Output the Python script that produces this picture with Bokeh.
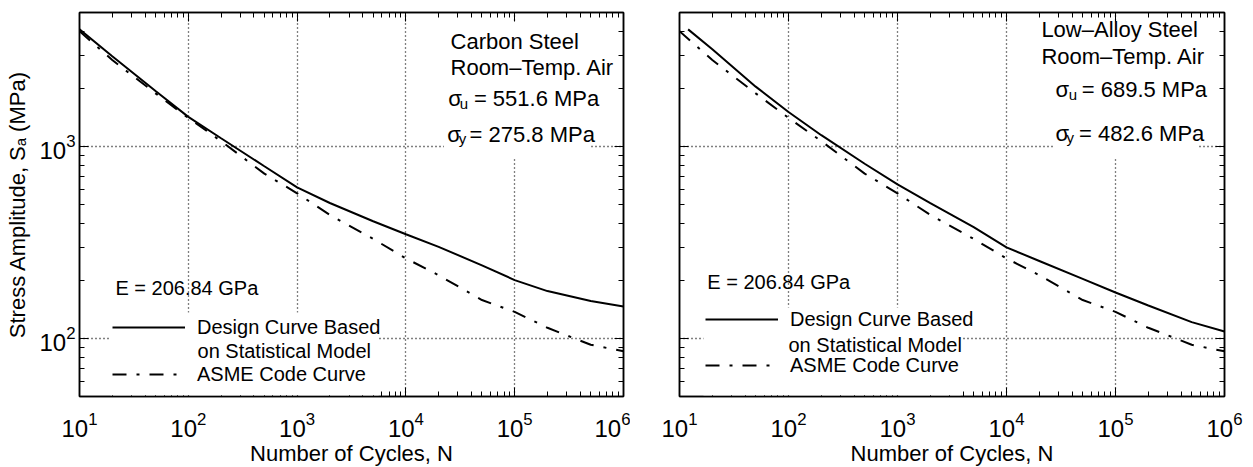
import numpy as np
from bokeh.plotting import figure
from bokeh.models import (Range1d, FixedTicker, LogTickFormatter, LogAxis, Label,
                          Legend, LegendItem, BoxAnnotation)
from bokeh.layouts import row
from bokeh.embed import file_html
from bokeh.resources import INLINE

# ---- data: number of cycles N and stress amplitude S_a (MPa) ----
cycles_cs = [10, 20, 50, 100, 200, 500, 1e3, 2e3, 5e3, 1e4, 2e4, 5e4, 1e5, 2e5, 5e5, 1e6]
design_cs = [4090, 2960, 1950, 1430, 1107, 791, 614, 509, 409, 350, 301, 241, 202, 177, 157, 147]

cycles_las = [12, 20, 50, 100, 200, 500, 1e3, 2e3, 5e3, 1e4, 2e4, 5e4, 1e5, 2e5, 5e5, 1e6]
design_las = [4085, 3220, 2055, 1517, 1148, 815, 636, 509, 381, 299, 254, 205, 174, 149, 122, 109]

cycles_asme = [10, 20, 50, 100, 200, 500, 1e3, 2e3, 5e3, 1e4, 2e4, 5e4, 1e5, 2e5, 5e5, 1e6]
asme_curve = [3999, 2827, 1896, 1413, 1069, 724, 572, 441, 331, 262, 214, 159, 138, 114, 93, 86]

x_major = [10, 100, 1000, 10000, 100000, 1000000]
y_major = [100, 1000]
x_minor = [m * 10 ** k for k in range(1, 6) for m in range(2, 10)]
y_minor = [m * 10 ** k for k in range(1, 4) for m in range(2, 10) if 50 <= m * 10 ** k <= 5000]

X_RANGE = (10, 1e6)
Y_RANGE = (50, 5000)

FONT = "Liberation Sans"
DASHDOT = "14 10 3 10"
TEXT_LIFT = 0.0234   # baseline correction, fraction of frame height


def at(fx, fy):
    """Frame fractions (from lower-left) -> data coordinates on the log axes."""
    lx0, lx1 = np.log10(X_RANGE)
    ly0, ly1 = np.log10(Y_RANGE)
    return float(10 ** (lx0 + fx * (lx1 - lx0))), float(10 ** (ly0 + fy * (ly1 - ly0)))


def text(p, fx, fy, s, size="22px"):
    x, y = at(fx, fy + TEXT_LIFT)
    p.add_layout(Label(x=x, y=y, text=s, text_font=FONT, text_font_size=size,
                       text_align="left", text_baseline="alphabetic", text_color="black"))


def white_box(p, fx0, fx1, fy0, fy1):
    x0, y0 = at(fx0, fy0)
    x1, y1 = at(fx1, fy1)
    p.add_layout(BoxAnnotation(left=x0, right=x1, bottom=y0, top=y1,
                               fill_color="white", fill_alpha=1.0, line_color=None))


def style_axis(ax, labels=True):
    ax.axis_line_color = "black"
    ax.axis_line_width = 1.5
    ax.major_tick_in = 9
    ax.major_tick_out = 0
    ax.minor_tick_in = 5
    ax.minor_tick_out = 0
    ax.major_tick_line_color = "black"
    ax.minor_tick_line_color = "black"
    ax.major_label_text_font = FONT
    ax.major_label_text_color = "black"
    ax.axis_label_text_font = FONT
    ax.axis_label_text_font_style = "normal"
    ax.axis_label_text_font_size = "22px"
    ax.axis_label_text_color = "black"
    if labels:
        ax.major_label_text_font_size = "24px"
    else:
        ax.major_label_text_font_size = "1px"
        ax.major_label_text_alpha = 0.0
        ax.major_label_standoff = 0


def make_panel(cycles_d, design, lines, su, sy, pos, show_ylabels, border_left, border_right,
               frame_w):
    p = figure(x_axis_type="log", y_axis_type="log",
               x_range=Range1d(*X_RANGE), y_range=Range1d(*Y_RANGE),
               frame_width=frame_w, frame_height=384,
               min_border_left=border_left, min_border_right=border_right,
               min_border_top=12, min_border_bottom=71,
               output_backend="svg", toolbar_location=None,
               background_fill_color="white", border_fill_color="white")
    p.outline_line_color = "black"
    p.outline_line_width = 1.5

    xt = FixedTicker(ticks=x_major, minor_ticks=x_minor)
    yt = FixedTicker(ticks=y_major, minor_ticks=y_minor)
    p.xaxis.ticker = xt
    p.yaxis.ticker = yt
    p.xaxis.formatter = LogTickFormatter()
    p.yaxis.formatter = LogTickFormatter()
    style_axis(p.xaxis[0])
    style_axis(p.yaxis[0], labels=show_ylabels)
    p.xaxis.major_label_standoff = 15
    p.xaxis.axis_label = "Number of Cycles, N"
    p.xaxis.axis_label_standoff = 1
    if show_ylabels:
        p.yaxis.axis_label = "Stress Amplitude, Sₐ (MPa)"
        p.yaxis.major_label_standoff = 4
        p.yaxis.axis_label_standoff = 6

    top = LogAxis(ticker=xt, formatter=LogTickFormatter())
    right = LogAxis(ticker=yt, formatter=LogTickFormatter())
    style_axis(top, labels=False)
    style_axis(right, labels=False)
    p.add_layout(top, "above")
    p.add_layout(right, "right")

    for g in (p.xgrid[0], p.ygrid[0]):
        g.grid_line_color = "black"
        g.grid_line_dash = "1 3"
        g.grid_line_width = 1.3
    p.xgrid.ticker = xt
    p.ygrid.ticker = yt

    r_design = p.line(cycles_d, design, line_color="black", line_width=2)
    r_asme = p.line(cycles_asme, asme_curve, line_color="black", line_width=2,
                    line_dash=DASHDOT)

    # white blocks behind the material annotation and the key
    white_box(p, *pos["box"])
    white_box(p, *pos["keybox"])

    text(p, pos["title"][0], pos["title"][1], lines[0])
    text(p, pos["title"][0], pos["title"][2], lines[1])
    # ultimate strength
    fx, fy, fsub, feq = pos["su"]
    text(p, fx, fy, "σ")
    text(p, fsub, fy - 0.014, "u", size="15px")
    text(p, feq, fy, su)
    # yield strength
    fx, fy, fsub, feq = pos["sy"]
    text(p, fx, fy, "σ")
    text(p, fsub, fy - 0.010, "y", size="15px")
    text(p, feq, fy, sy)

    text(p, pos["E"][0], pos["E"][1], "E = 206.84 GPa", size="20px")

    legend = Legend(items=[LegendItem(label="Design Curve Based", renderers=[r_design]),
                           LegendItem(label="ASME Code Curve", renderers=[r_asme])],
                    location=pos["legend"], orientation="vertical",
                    glyph_width=73, glyph_height=24, label_height=24, label_standoff=12,
                    spacing=pos["spacing"], padding=4, margin=0,
                    label_text_font=FONT, label_text_font_size="20px",
                    label_text_color="black",
                    border_line_color=None, background_fill_alpha=0.0)
    p.add_layout(legend)
    text(p, pos["model"][0], pos["model"][1], "on Statistical Model", size="20px")
    return p


pos_cs = dict(box=(0.67, 0.94, 0.62, 0.975),
              keybox=(0.057, 0.55, 0.003, 0.219),
              title=(0.682, 0.901, 0.833),
              su=(0.678, 0.753, 0.699, 0.725),
              sy=(0.676, 0.659, 0.697, 0.717),
              E=(0.066, 0.258),
              legend=(33, 10), spacing=23,
              model=(0.217, 0.096))
pos_las = dict(box=(0.686, 0.952, 0.62, 0.975),
               title=(0.664, 0.932, 0.862),
               keybox=(0.044, 0.516, 0.003, 0.232),
               su=(0.690, 0.776, 0.714, 0.738),
               sy=(0.690, 0.661, 0.710, 0.733),
               E=(0.051, 0.276),
               legend=(26, 19), spacing=22,
               model=(0.200, 0.112))

p1 = make_panel(cycles_cs, design_cs, ["Carbon Steel", "Room–Temp. Air"],
                "= 551.6 MPa", "= 275.8 MPa", pos_cs, True, 79, 7, 544)
p2 = make_panel(cycles_las, design_las, ["Low–Alloy Steel", "Room–Temp. Air"],
                "= 689.5 MPa", "= 482.6 MPa", pos_las, False, 49, 29, 545)

layout = row(p1, p2)
open("out.html", "w").write(file_html(layout, INLINE))
